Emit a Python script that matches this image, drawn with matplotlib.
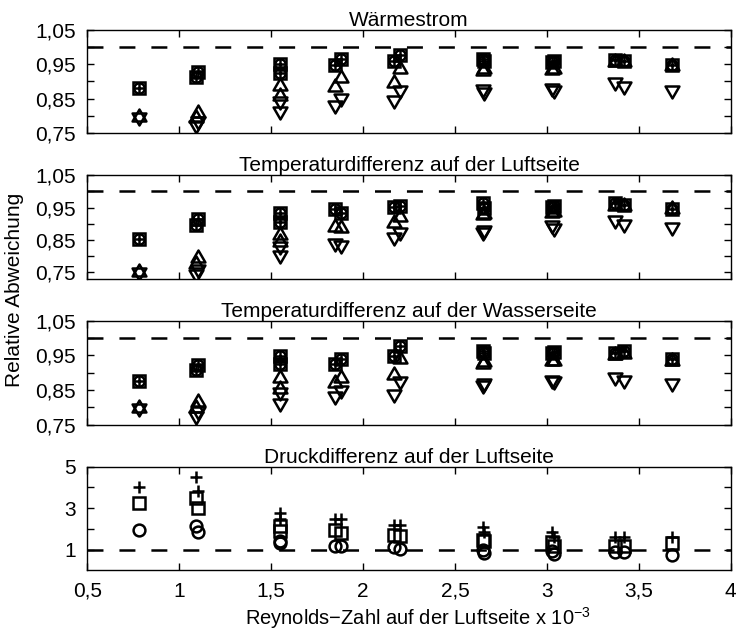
import matplotlib
matplotlib.use("Agg")
import matplotlib.pyplot as plt
from matplotlib.path import Path
from matplotlib.ticker import FixedLocator, FixedFormatter

plt.rcParams['font.family'] = ['Liberation Sans', 'DejaVu Sans']
plt.rcParams['mathtext.fontset'] = 'custom'
plt.rcParams['mathtext.rm'] = 'Liberation Sans'
plt.rcParams['mathtext.it'] = 'Liberation Sans:italic'
plt.rcParams['lines.scale_dashes'] = False

# Reynolds number on the air side (x 10^-3)
re = [0.78, 1.09, 1.10, 1.55, 1.55, 1.85, 1.88, 2.17, 2.20,
      2.65, 2.66, 3.03, 3.04, 3.37, 3.42, 3.68]

# Relative deviation: heat flow
q_box = [0.880, 0.914, 0.928, 0.949, 0.923, 0.947, 0.964, 0.960, 0.975,
         0.965, 0.960, 0.957, 0.960, 0.963, 0.960, 0.947]
q_up = [0.797, 0.795, 0.808, 0.887, 0.858, 0.885, 0.909, 0.894, 0.935,
        0.930, 0.935, 0.933, 0.935, 0.955, 0.955, 0.945]
q_down = [0.797, 0.775, 0.785, 0.844, 0.814, 0.832, 0.851, 0.846, 0.875,
          0.877, 0.868, 0.880, 0.875, 0.899, 0.886, 0.875]

# Relative deviation: temperature difference, air side
ta_box = [0.852, 0.896, 0.914, 0.932, 0.907, 0.947, 0.932, 0.952, 0.955,
          0.963, 0.950, 0.952, 0.955, 0.963, 0.958, 0.947]
ta_up = [0.752, 0.775, 0.795, 0.866, 0.845, 0.891, 0.886, 0.901, 0.920,
         0.927, 0.930, 0.932, 0.935, 0.955, 0.955, 0.945]
ta_down = [0.752, 0.745, 0.760, 0.830, 0.804, 0.840, 0.835, 0.860, 0.875,
           0.875, 0.880, 0.896, 0.886, 0.911, 0.898, 0.891]

# Relative deviation: temperature difference, water side
tw_box = [0.877, 0.907, 0.921, 0.948, 0.925, 0.924, 0.940, 0.948, 0.976,
          0.962, 0.958, 0.957, 0.960, 0.957, 0.962, 0.939]
tw_up = [0.797, 0.797, 0.815, 0.884, 0.852, 0.871, 0.885, 0.893, 0.939,
         0.925, 0.930, 0.934, 0.935, 0.950, 0.955, 0.935]
tw_down = [0.797, 0.774, 0.788, 0.843, 0.813, 0.833, 0.850, 0.838, 0.875,
           0.866, 0.870, 0.879, 0.875, 0.889, 0.879, 0.870]

# Relative deviation: pressure difference, air side
dp_plus = [4.00, 4.50, 3.85, 2.75, 2.50, 2.50, 2.50, 2.20, 2.20,
           2.10, 1.85, 1.85, 1.60, 1.60, 1.60, 1.60]
dp_square = [3.25, 3.50, 3.00, 2.15, 1.90, 1.95, 1.80, 1.70, 1.65,
             1.45, 1.40, 1.35, 1.20, 1.20, 1.20, 1.30]
dp_circle = [1.95, 2.15, 1.85, 1.40, 1.30, 1.20, 1.20, 1.12, 1.05,
             0.97, 0.85, 0.95, 0.80, 0.88, 0.88, 0.75]

titles = ['Wärmestrom',
          'Temperaturdifferenz auf der Luftseite',
          'Temperaturdifferenz auf der Wasserseite',
          'Druckdifferenz auf der Luftseite']

x_ticks = [0.5, 1.0, 1.5, 2.0, 2.5, 3.0, 3.5, 4.0]
x_tick_labels = ['0,5', '1', '1,5', '2', '2,5', '3', '3,5', '4']
ratio_ticks = [0.75, 0.80, 0.85, 0.90, 0.95, 1.00, 1.05]
ratio_tick_labels = ['0,75', '', '0,85', '', '0,95', '', '1,05']
dp_ticks = [1, 2, 3, 4, 5]
dp_tick_labels = ['1', '', '3', '', '5']

# triangles centred on their centroid
tri_up = Path([(0, 1), (-0.866, -0.5), (0.866, -0.5), (0, 1)],
              [Path.MOVETO, Path.LINETO, Path.LINETO, Path.CLOSEPOLY])
tri_down = Path([(0, -1), (-0.866, 0.5), (0.866, 0.5), (0, -1)],
                [Path.MOVETO, Path.LINETO, Path.LINETO, Path.CLOSEPOLY])

FS = 15
W, H = 737, 637
fig = plt.figure(figsize=(W / 100, H / 100), dpi=100)

left, right = 87.3, 730.7
panel_h = 103.7
tops = [29.5, 175.2, 320.9, 466.7]
axes = []
for t in tops:
    ax = fig.add_axes([left / W, 1 - (t + panel_h) / H, (right - left) / W, panel_h / H])
    axes.append(ax)

mk = dict(ls='none', color='black', mfc='none', mec='black', mew=1.8)


def style_axis(ax, title, yticks, ylabels, show_x):
    ax.set_xlim(0.5, 4.0)
    ax.xaxis.set_major_locator(FixedLocator(x_ticks))
    if show_x:
        ax.xaxis.set_major_formatter(FixedFormatter(x_tick_labels))
    else:
        ax.xaxis.set_major_formatter(FixedFormatter([''] * len(x_ticks)))
    ax.yaxis.set_major_locator(FixedLocator(yticks))
    ax.yaxis.set_major_formatter(FixedFormatter(ylabels))
    ax.tick_params(direction='in', length=5, width=1.0, top=True, right=True,
                   labelsize=FS, pad=8)
    for s in ax.spines.values():
        s.set_linewidth(1.0)
    ax.set_title(title, fontsize=FS, pad=2.5)
    ax.axhline(1.0, color='black', lw=1.8, dashes=(11.5, 11.5))


ratio_sets = [(q_box, q_up, q_down), (ta_box, ta_up, ta_down), (tw_box, tw_up, tw_down)]
ylims = [(0.75, 1.05), (0.73, 1.05), (0.75, 1.05)]
for ax, (box, up, down), title, yl in zip(axes[:3], ratio_sets, titles[:3], ylims):
    ax.plot(re, up, marker=tri_up, ms=11.5, **mk)
    ax.plot(re, down, marker=tri_down, ms=11.5, **mk)
    ax.plot(re, box, marker='o', ms=7.5, **mk)
    ax.plot(re, box, marker='+', ms=9, **mk)
    ax.plot(re, box, marker='s', ms=8.5, **mk)
    ax.set_ylim(*yl)
    style_axis(ax, title, ratio_ticks, ratio_tick_labels, False)

ax4 = axes[3]
ax4.plot(re, dp_plus, marker='+', ms=9, **mk)
ax4.plot(re, dp_square, marker='s', ms=8.5, **mk)
ax4.plot(re, dp_circle, marker='o', ms=8.5, **mk)
ax4.set_ylim(0, 5)
style_axis(ax4, titles[3], dp_ticks, dp_tick_labels, True)

fig.text(15 / W, 1 - 290 / H, 'Relative Abweichung', rotation=90,
         ha='center', va='center', fontsize=FS)
fig.text(418 / W, 1 - 618 / H, 'Reynolds\u2212Zahl auf der Luftseite x 10$^{-3}$',
         ha='center', va='center', fontsize=14.5)

fig.savefig('out.png', dpi=100)
